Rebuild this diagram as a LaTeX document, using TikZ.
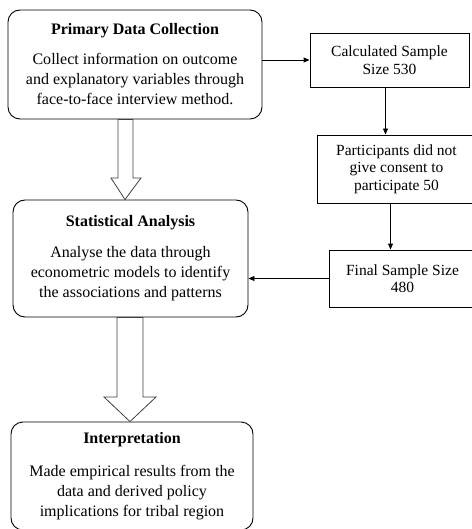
\documentclass[tikz,border=0pt]{standalone}
\usepackage{fontspec}
\setmainfont{Liberation Serif}
\usepackage{tikz}
\usetikzlibrary{arrows.meta}
\usetikzlibrary{calc}

\begin{document}
\begin{tikzpicture}[x=1pt, y=-1pt, >={Triangle[length=6pt,width=5pt]}, line width=0.9pt,
  roundbox/.style={draw, rounded corners=12pt, align=center, inner sep=0pt, font=\fontsize{16}{20}\selectfont},
  samplebox/.style={draw, align=center, inner sep=0pt, font=\fontsize{15.5}{17.5}\selectfont},
  blockarrow/.style={draw=black!75, fill=white, line width=0.8pt},]
\useasboundingbox (0,0) rectangle (471,529);
\node[roundbox, minimum width=254pt, minimum height=109pt] (1) at (135, 64.5)
  {\textbf{Primary Data Collection}\\[10pt]Collect information on outcome\\and explanatory variables through\\face-to-face interview method.};
\node[samplebox, minimum width=159pt, minimum height=54pt] (2) at (389.5, 60) {Calculated Sample\\Size 530};
\node[samplebox, minimum width=159pt, minimum height=68pt] (3) at (396.5, 169) {Participants did not\\give consent to\\participate 50};
\node[samplebox, minimum width=147pt, minimum height=57pt] (4) at (402.5, 278.5) {Final Sample Size\\480};
\node[roundbox, minimum width=235pt, minimum height=117pt] (5) at (130.5, 258.5)
  {\textbf{Statistical Analysis}\\[11pt]Analyse the data through\\econometric models to identify\\the associations and patterns};
\node[roundbox, minimum width=242pt, minimum height=108pt] (6) at (132, 476)
  {\textbf{Interpretation}\\[13pt]Made empirical results from the\\data and derived policy\\implications for tribal region};
 \draw [->] (1.east |- 2.west)--(2.west);
 \draw [->] ([xshift=-4pt]2.south)--([xshift=-4pt]2.south |- 3.north);
 \draw [->] ([xshift=-6pt]3.south)--([xshift=-6pt]3.south |- 4.north);
 \draw [->] (4.west)--(4.west -| 5.east);
  \draw [blockarrow] (118,0 |- 1.south)--(118,178)--(111,178)--(125,0 |- 5.north)--(141,178)--(133,178)--(133,0 |- 1.south)--cycle;
  \draw [blockarrow] (117,0 |- 5.south)--(117,397)--(104,397)--(130,0 |- 6.north)--(156,397)--(143,397)--(143,0 |- 5.south)--cycle;
\end{tikzpicture}
\end{document}
